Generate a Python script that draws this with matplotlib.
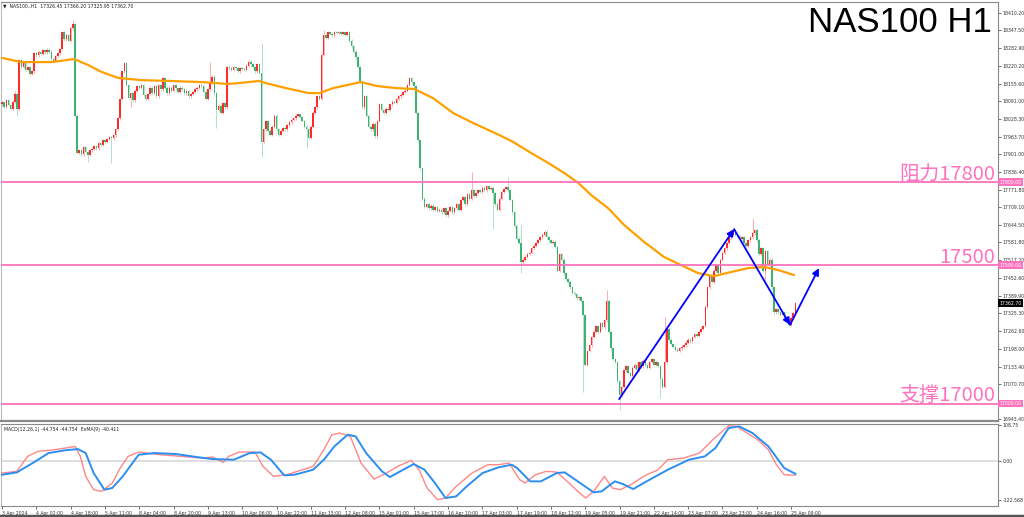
import matplotlib
matplotlib.use('Agg')
import matplotlib.pyplot as plt
from matplotlib.lines import Line2D

# ---------------- data ----------------
closes = [
    18088, 18072, 18095, 18078, 18065, 18090, 18118, 18062,
    18240, 18215, 18230, 18205, 18215, 18190, 18200, 18265,
    18258, 18270, 18262, 18275, 18268, 18278, 18270, 18245,
    18238, 18255, 18265, 18280,
    18340, 18315, 18330, 18310, 18355, 18370,
    18040, 17905, 17915, 17900, 17925, 17910, 17898, 17915,
    17920, 17930, 17922, 17940, 17935, 17950, 17945, 17955, 17962, 17958,
    17968, 17990, 18030, 18100, 18200,
    18230, 18150, 18105, 18120, 18095,
    18130, 18145, 18140, 18150, 18115, 18100, 18118,
    18140, 18120, 18145, 18110, 18150, 18135, 18175, 18140, 18120,
    18140, 18130, 18150, 18138, 18125, 18140, 18135, 18120, 18128,
    18110, 18118, 18125, 18135, 18140, 18150, 18145,
    18125, 18100, 18135, 18160, 18180,
    18120, 18060, 18075, 18050,
    18085, 18070, 18215,
    18210, 18205, 18215, 18210, 18200, 18212, 18208, 18205, 18220, 18235, 18225, 18215,
    18200, 18225, 18195,
    17945, 17990, 18020, 17985, 17970,
    18000, 18040, 17990, 17970,
    17985, 17995, 17990, 18005, 18015, 18025, 18030, 18040, 18045,
    18035, 18020, 18000, 17990, 17960,
    18000, 18050, 18070, 18110, 18100,
    18260, 18330,
    18320, 18340, 18335, 18330, 18340, 18338, 18342, 18335, 18340, 18332, 18340,
    18310, 18290, 18270, 18250, 18215,
    18160, 18070, 18110, 18040,
    18000, 17990, 18010, 17965,
    18020, 18080, 18060,
    18050, 18065, 18060, 18080, 18090, 18085, 18100, 18110, 18115, 18125, 18130,
    18150, 18175, 18160, 18145,
    18050, 17950,
    17850, 17740, 17710,
    17720, 17705, 17715, 17700, 17710, 17695,
    17700, 17690, 17705, 17680, 17695, 17710, 17690,
    17705, 17720, 17700, 17735, 17745, 17720, 17755, 17740, 17770, 17750,
    17760, 17770, 17765, 17780, 17770, 17785, 17775, 17780, 17760,
    17720, 17700, 17740,
    17765, 17775, 17782, 17770,
    17735, 17690, 17640, 17595,
    17580, 17510, 17520,
    17530, 17540, 17545, 17560, 17570, 17580,
    17590, 17600, 17610, 17620,
    17600, 17590, 17580, 17585, 17565,
    17480, 17540, 17520, 17470,
    17450, 17440, 17420, 17400, 17395, 17380, 17385, 17370,
    17320, 17140,
    17190, 17210, 17240, 17260,
    17280, 17260, 17290, 17275, 17300,
    17370,
    17260, 17200, 17160, 17150,
    17080, 17030, 17060,
    17120, 17135, 17110, 17100, 17130,
    17140, 17120, 17150, 17135, 17155, 17140, 17130, 17150, 17160, 17140, 17150, 17135,
    17090, 17060,
    17150, 17270,
    17230, 17215, 17205, 17195, 17190, 17200,
    17205, 17210, 17220, 17230, 17225, 17240, 17250, 17245, 17260, 17270, 17280,
    17350, 17420, 17460,
    17440, 17480, 17500, 17470, 17520,
    17545, 17560, 17580, 17600, 17610, 17625,
    17610, 17605, 17595, 17600, 17580, 17570, 17590,
    17600, 17615, 17625, 17590,
    17540, 17560, 17480, 17550, 17500, 17520,
    17420, 17330,
    17340, 17330, 17320, 17330, 17310, 17300, 17285,
    17310, 17326.45, 17362.70,
]
first_open = 18080
last_high, last_low = 17366.20, 17325.95

spike_highs = {6: 18130, 33: 18385, 97: 18233, 121: 18302, 150: 18349,
               219: 17836, 236: 17818, 242: 17646, 282: 17410, 309: 17312,
               350: 17670, 370: last_high}
spike_lows = {7: 18040, 40: 17872, 51: 17868, 60: 18071, 100: 17995,
              121: 17890, 142: 17922, 229: 17630, 242: 17471, 271: 17042,
              288: 16976, 307: 17020, 356: 17445, 370: last_low}

ma_bars = [0, 8.9, 22.9, 33.6, 40, 46.2, 54.1, 64.8, 77.4, 92.8, 105.4, 111.5,
           119.9, 123, 132.5, 143, 148, 154.4, 167.4, 174.5, 183.8, 192.2, 201,
           210.4, 219.7, 231.8, 238.3, 246.7, 254.7, 262.1, 268.7, 274.7, 282.6,
           290.1, 299.4, 308.8, 316.7, 324.6, 332.1, 340, 347.9, 355.4, 362, 369.4]
ma_vals = [18248, 18233, 18233, 18244, 18223, 18198, 18176, 18168, 18165, 18161,
           18154, 18158, 18165, 18157, 18139, 18121, 18121, 18139, 18161, 18147,
           18139, 18136, 18103, 18049, 18013, 17970, 17945, 17905, 17869, 17833,
           17797, 17753, 17706, 17645, 17584, 17529, 17500, 17471, 17460, 17475,
           17489, 17493, 17482, 17464]

sig_bars = [0, 6.9, 14.3, 21.7, 29.1, 35.3, 39, 42.7, 47.7, 51.4, 56.3, 63.7, 71.1,
            81, 90.8, 98.2, 108.1, 115.5, 120.5, 125.4, 131.6, 136.5, 145.1, 150.1,
            155, 161.2, 164.9, 169.8, 177.2, 180.9, 187.1, 192, 197, 201.9, 206.8,
            211.8, 216.7, 224.1, 231.5, 237.7, 240.2, 246.3, 251.3, 258.7, 262.4,
            268.5, 275.9, 279.6, 285.8, 289.5, 294.4, 300.6, 310.5, 320.4, 327.8,
            332.7, 338.9, 343.8, 350, 357.4, 364.8, 370]
sig_vals = [-43.2, -36, -7.2, 23.6, 31.9, 36, 23.6, -38, -89.4, -84.2, -48.3, 18.5,
            23.6, 20.6, 11.3, 5.1, 3.1, 23.6, 25.7, 3.1, -45.2, -43.2, -27.8, 3.1,
            44.2, 80.2, 75, 23.6, -32.9, -50.4, -27.8, -10.3, -27.8, -68.9, -115.1,
            -110, -79.2, -38, -20.6, -12.3, -22.6, -63.7, -63.7, -38, -36, -63.7,
            -97.7, -94.6, -63.7, -72, -87.4, -63.7, -27.8, 3.1, 13.4, 39.1, 100.7,
            105.9, 85.3, 44.2, -22.6, -40.4]

macd_bars = [0, 6.9, 11.9, 16.8, 24.2, 31.6, 34.1, 36.5, 39, 42.7, 46.4, 51.4, 55.1,
             58.8, 63.7, 73.6, 83.4, 93.3, 98.2, 103.2, 105.7, 110.6, 118, 121.7,
             126.6, 132.8, 140.2, 145.1, 150.1, 153.8, 157.5, 162.4, 167.4, 173.5,
             178.5, 184.6, 190.8, 194.5, 198.2, 203.1, 206.8, 211.8, 219.2, 226.6,
             231.5, 236.5, 241.4, 243.9, 248.8, 253.7, 258.7, 263.6, 268.5, 272.2,
             275.9, 280.9, 284.6, 288.3, 293.2, 300.6, 305.6, 310.5, 317.9, 325.3,
             331.5, 338.9, 342.6, 347.5, 352.4, 357.4, 361.1, 364.8, 370]
macd_vals = [-38, -32.9, 13.4, 28.8, 33.9, 41.1, 44.2, 13.4, -48.3, -89.4, -94.6,
             -68.9, -22.6, 13.4, 26.7, 18.5, 13.4, 8.2, 11.3, -5.1, 13.4, 26.7,
             26.7, -17.5, -48.3, -43.2, -27.8, -17.5, 33.9, 80.2, 85.3, 75, -7.2,
             -56.5, -41.1, -17.5, 1, -27.8, -84.3, -120.3, -115.1, -79.2, -38,
             -12.3, -12.3, -7.2, -58.6, -68.9, -43.2, -32.9, -35, -63.7, -94.6,
             -115.1, -94.6, -48.3, -84.3, -89.4, -74, -43.2, -29.8, 3.1, 8.2, 23.6,
             64.8, 107.9, 105.9, 85.3, 64.8, 33.9, -12.3, -43.2, -44.8]

price_ticks = [18410.20, 18347.50, 18282.90, 18220.20, 18155.60, 18091.00, 18028.30,
               17963.70, 17901.00, 17836.40, 17771.80, 17709.10, 17644.50, 17581.80,
               17517.20, 17452.60, 17389.90, 17325.30, 17262.60, 17198.00, 17133.40,
               17070.70, 16943.40]
macd_ticks = [108.75, 0.00, -122.568]
macd_tick_labels = ['108.75', '0.00', '-122.568']

time_labels = ['3 Apr 2024', '4 Apr 02:00', '4 Apr 18:00', '5 Apr 11:00', '8 Apr 04:00',
               '8 Apr 20:00', '9 Apr 13:00', '10 Apr 06:00', '10 Apr 22:00',
               '11 Apr 15:00', '12 Apr 08:00', '15 Apr 01:00', '15 Apr 17:00',
               '16 Apr 10:00', '17 Apr 03:00', '17 Apr 19:00', '18 Apr 12:00',
               '19 Apr 05:00', '19 Apr 21:00', '22 Apr 14:00', '23 Apr 07:00',
               '23 Apr 23:00', '24 Apr 16:00', '25 Apr 09:00']
bars_per_label = 16

level_values = [17800, 17500, 17000]
level_texts = ['阻力17800', '17500', '支撑17000']

arrow_bars = [287.8, 341.4, 367.5, 381]
arrow_prices = [17016, 17630, 17284, 17489]

title = 'NAS100 H1'
header = '▼  NAS100.,H1  17326.45 17366.20 17325.95 17362.70'
macd_header = 'MACD(12,26,1) -44.754 -44.754  ExMA(9) -40.411'
last_price = 17362.70

# ---------------- styling ----------------
UP = '#ff2a2a'
DN = '#3cb371'
PINK = '#ff72bd'
GRAY = '#8a8a8a'
TICK_FS = 3.3

fig = plt.figure(figsize=(10.24, 5.17), dpi=100)
fig.patch.set_facecolor('white')
W, H = 1024.0, 517.0
ax = fig.add_axes([1 / W, 1 - 421 / H, 997 / W, 419 / H])
mx = fig.add_axes([1 / W, 1 - 506 / H, 997 / W, 82 / H], sharex=ax)

n = len(closes)
opens = [first_open] + closes[:-1]
wick = 5.0
for i in range(n):
    o, c = opens[i], closes[i]
    up = c >= o
    col = UP if up else DN
    hi = spike_highs.get(i, max(o, c) + wick)
    lo = spike_lows.get(i, min(o, c) - wick)
    ax.vlines(i, lo, hi, color=col, lw=0.6, alpha=0.45, zorder=2)
    body = max(abs(c - o), 1.5)
    ax.bar(i, body, bottom=min(o, c), width=0.72, color=col, lw=0, zorder=3)

# moving average
ax.plot(ma_bars, ma_vals, color='#ffa000', lw=1.6, zorder=4, solid_capstyle='round')

# levels
for v, t in zip(level_values, level_texts):
    ax.axhline(v, color=PINK, lw=1.3, zorder=4)
    ax.text(0.9975, v + 9, t, transform=ax.get_yaxis_transform(), ha='right',
            va='baseline', fontsize=14.5, color=PINK,
            family=['Noto Sans CJK SC', 'DejaVu Sans'], zorder=6)
    ax.text(1.0015, v, '%.2f' % v, transform=ax.get_yaxis_transform(), ha='left',
            va='center', fontsize=TICK_FS, color='white', zorder=7, clip_on=False,
            bbox=dict(boxstyle='square,pad=0.25', fc=PINK, ec='none'))

ax.text(1.0015, last_price, '%.2f' % last_price, transform=ax.get_yaxis_transform(),
        ha='left', va='center', fontsize=TICK_FS, color='white', zorder=7,
        clip_on=False, bbox=dict(boxstyle='square,pad=0.25', fc='black', ec='none'))

# blue arrows
for k in range(len(arrow_bars) - 1):
    ax.annotate('', xy=(arrow_bars[k + 1], arrow_prices[k + 1]),
                xytext=(arrow_bars[k], arrow_prices[k]),
                arrowprops=dict(arrowstyle='-|>,head_length=0.4,head_width=0.2',
                                color='#0000ff', lw=1.3, shrinkA=0, shrinkB=0),
                zorder=8)

ax.set_xlim(-0.5, 464.5)
ax.set_ylim(16937, 18450)
ax.yaxis.tick_right()
ax.set_yticks(price_ticks)
ax.set_yticklabels(['%.2f' % t for t in price_ticks])
ax.tick_params(axis='y', direction='out', length=2, width=0.5, pad=1.2,
               labelsize=TICK_FS, colors='#333333')
ax.tick_params(axis='x', bottom=False, labelbottom=False)
for s in ax.spines.values():
    s.set_color(GRAY)
    s.set_linewidth(0.8)
ax.spines['bottom'].set_linewidth(1.6)
ax.spines['left'].set_color('#bbbbbb')

# title & header
fig.text(992 / W, 1 - 22 / H, title, ha='right', va='center', fontsize=25,
         family='Liberation Sans', color='black')
fig.text(3 / W, 1 - 6 / H, header, ha='left', va='center', fontsize=TICK_FS,
         color='#222222')

# MACD panel
mx.axhline(0, color='#d8d8d8', lw=1.2, zorder=1)
mx.plot(macd_bars, macd_vals, color='#ff7a7a', lw=1.0, zorder=3, alpha=0.9,
        solid_joinstyle='round')
mx.plot(sig_bars, sig_vals, color='#2b8ef0', lw=1.4, zorder=4, solid_joinstyle='round')
mx.set_ylim(-139.7, 113.2)
mx.yaxis.tick_right()
mx.set_yticks(macd_ticks)
mx.set_yticklabels(macd_tick_labels)
mx.tick_params(axis='y', direction='out', length=2, width=0.5, pad=1.2,
               labelsize=TICK_FS, colors='#333333')
ticks_x = [i * bars_per_label for i in range(len(time_labels))]
mx.set_xticks(ticks_x)
mx.set_xticklabels(time_labels)
mx.tick_params(axis='x', direction='out', length=2.5, width=0.5, pad=0.8,
               labelsize=TICK_FS, colors='#333333')
for lab in mx.get_xticklabels():
    lab.set_ha('left')
for s in mx.spines.values():
    s.set_color(GRAY)
    s.set_linewidth(0.8)
mx.spines['left'].set_color('#bbbbbb')
mx.text(0.003, 0.93, macd_header, transform=mx.transAxes, ha='left', va='center',
        fontsize=TICK_FS, color='#222222')

# bottom frame band
fig.add_artist(Line2D([0, 1], [1 - 515.5 / H, 1 - 515.5 / H], transform=fig.transFigure,
                      color='#555555', lw=2.5))

fig.savefig('out.png', dpi=100, facecolor='white')
